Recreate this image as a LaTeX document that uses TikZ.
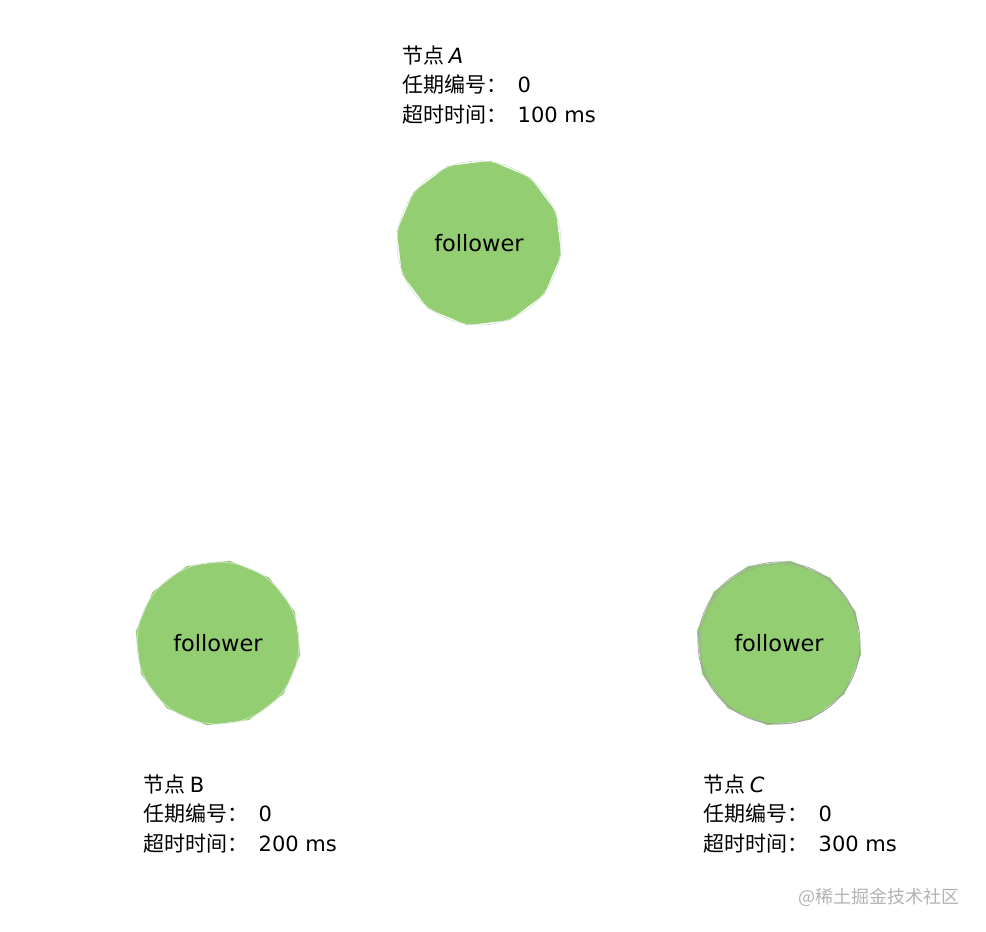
\documentclass[tikz,border=0pt]{standalone}
\usepackage{fontspec}
\setmainfont{Noto Sans CJK SC}
\newfontfamily\latinfont{DejaVu Sans}
\usetikzlibrary{shapes.geometric}
\definecolor{leafgreen}{RGB}{148,206,114}
\definecolor{rimpale}{RGB}{214,228,206}
\definecolor{rimgray}{RGB}{160,160,160}
\definecolor{markgray}{RGB}{178,178,178}
\newcommand{\lt}[1]{{\latinfont #1}}
\newcommand{\gap}{\hspace{0.5em}}
\tikzset{
  follower/.style={regular polygon, regular polygon sides=12,
    shape border rotate=7, minimum size=166pt, inner sep=0pt,
    fill=leafgreen, font=\latinfont\fontsize{22.5}{22.5}\selectfont},
  rim/.style={draw=#1, line width=0.7pt},
  info/.style={align=left, anchor=west, inner sep=0pt,
    font=\fontsize{21}{29.5}\selectfont},
  watermark/.style={anchor=east, inner sep=0pt, text=markgray,
    font=\fontsize{18}{18}\selectfont}
}
\begin{document}
\begin{tikzpicture}[x=1pt,y=-1pt]
   \useasboundingbox (0,0) rectangle (986,932);
   \node (A) [follower] at (479,243) {follower};
   \node (B) [follower] at (218,643) {follower};
   \node (C) [follower] at (779,643) {follower};
   \draw[rim=rimpale] (A.center) circle (82pt);
   \draw[rim=rimpale] (B.center) circle (81pt);
   \draw[rim=rimgray] (C.center) circle (81pt);
   \draw[rim=rimgray, line width=0.5pt] ([shift={(1pt,-1pt)}]C.center) circle (80pt);
   \node (infoA) [info] at (402,85)
     {节点 \lt{\itshape A}\\任期编号：\gap\lt{0}\\超时时间：\gap\lt{100 ms}};
   \node (infoB) [info] at (143,814)
     {节点 \lt{B}\\任期编号：\gap\lt{0}\\超时时间：\gap\lt{200 ms}};
   \node (infoC) [info] at (703,814)
     {节点 \lt{\itshape C}\\任期编号：\gap\lt{0}\\超时时间：\gap\lt{300 ms}};
   \node (site) [watermark] at (960,897) {@稀土掘金技术社区};
\end{tikzpicture}
\end{document}
